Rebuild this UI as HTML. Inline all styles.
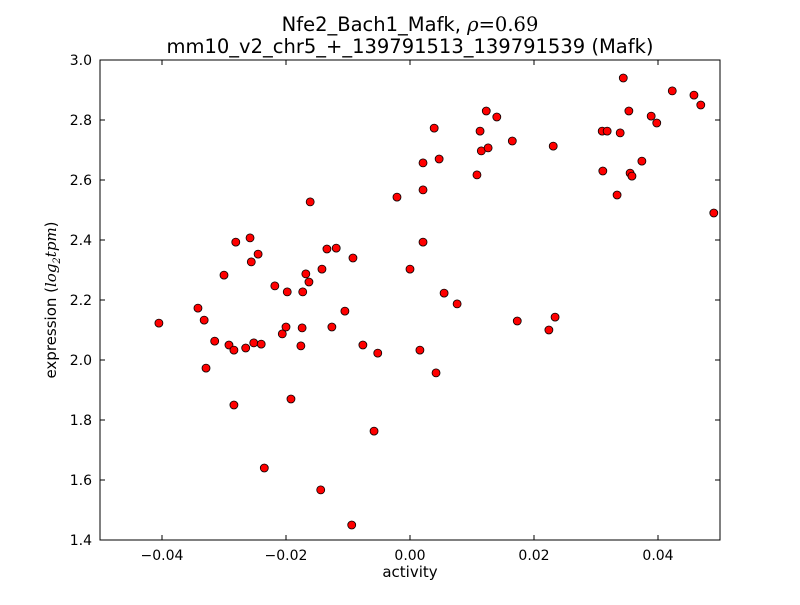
<!DOCTYPE html>
<html><head><meta charset="utf-8"><style>
body{margin:0;background:#fff;}
svg text{font-family:"DejaVu Sans","Liberation Sans",sans-serif;fill:#000;}
</style></head><body>
<svg id="chart" width="800" height="600" xmlns="http://www.w3.org/2000/svg">
<rect width="800" height="600" fill="#fff"/>
<text x="410" y="31" font-size="19.5" text-anchor="middle">Nfe2_Bach1_Mafk, <tspan font-family="DejaVu Serif,serif" font-style="italic">ρ</tspan><tspan font-family="DejaVu Serif,serif">=0.69</tspan></text>
<text x="410" y="53" font-size="19.5" text-anchor="middle">mm10_v2_chr5_+_139791513_139791539 (Mafk)</text>
<text x="410" y="577" font-size="15" text-anchor="middle">activity</text>
<text transform="translate(56,300) rotate(-90)" font-size="15" text-anchor="middle">expression (<tspan font-family="DejaVu Serif,serif" font-style="italic">log</tspan><tspan font-family="DejaVu Serif,serif" font-style="italic" font-size="10" dy="4">2</tspan><tspan font-family="DejaVu Serif,serif" font-style="italic" dy="-4">tpm</tspan>)</text>
<g id="ticks"></g>
<g id="points"></g>
<rect x="100" y="60" width="620" height="480" fill="none" stroke="#000" stroke-width="1"/>
</svg>
<script>
const xTicks=[-0.04,-0.02,0.00,0.02,0.04];
const xTickLabels=["\u22120.04","\u22120.02","0.00","0.02","0.04"];
const yTicks=[1.4,1.6,1.8,2.0,2.2,2.4,2.6,2.8,3.0];
const yTickLabels=["1.4","1.6","1.8","2.0","2.2","2.4","2.6","2.8","3.0"];
const activity=[-0.0405,-0.0342,-0.0332,-0.0329,-0.0315,-0.0300,-0.0292,-0.0284,-0.0284,-0.0281,-0.0265,-0.0258,-0.0256,-0.0252,-0.0245,-0.0240,-0.0235,-0.0218,-0.0206,-0.0200,-0.0198,-0.0192,-0.0176,-0.0174,-0.0173,-0.0168,-0.0163,-0.0161,-0.0144,-0.0142,-0.0134,-0.0126,-0.0119,-0.0105,-0.0094,-0.0092,-0.0076,-0.0058,-0.0052,-0.0021,0.0,0.0016,0.0021,0.0021,0.0021,0.0039,0.0042,0.0047,0.0055,0.0076,0.0108,0.0113,0.0115,0.0123,0.0126,0.0140,0.0165,0.0173,0.0224,0.0231,0.0234,0.0310,0.0311,0.0318,0.0334,0.0339,0.0344,0.0353,0.0355,0.0358,0.0374,0.0389,0.0398,0.0423,0.0458,0.0469,0.0490];
const expression=[2.123,2.173,2.133,1.973,2.063,2.283,2.05,2.033,1.85,2.393,2.04,2.407,2.327,2.057,2.353,2.053,1.64,2.247,2.087,2.11,2.227,1.87,2.047,2.107,2.227,2.287,2.26,2.527,1.567,2.303,2.37,2.11,2.373,2.163,1.45,2.34,2.05,1.763,2.023,2.543,2.303,2.033,2.393,2.567,2.657,2.773,1.957,2.67,2.223,2.187,2.617,2.763,2.697,2.83,2.707,2.81,2.73,2.13,2.1,2.713,2.143,2.763,2.63,2.763,2.55,2.757,2.94,2.83,2.623,2.613,2.663,2.813,2.79,2.897,2.883,2.85,2.49];
const NS="http://www.w3.org/2000/svg";
const X0=100,X1=720,Y0=540,Y1=60,xmin=-0.05,xmax=0.05,ymin=1.4,ymax=3.0;
function xs(v){return X0+(v-xmin)/(xmax-xmin)*(X1-X0);}
function ys(v){return Y0-(v-ymin)/(ymax-ymin)*(Y0-Y1);}
function mk(t,a){const e=document.createElementNS(NS,t);for(const k in a)e.setAttribute(k,a[k]);return e;}
const tg=document.getElementById('ticks');
xTicks.forEach((v,i)=>{const x=xs(v);
 const l1=mk('line',{x1:x,x2:x,y1:Y0,y2:Y0-5,stroke:'#000'});
 
 
 tg.appendChild(l1);
 const l2=mk('line',{x1:x,x2:x,y1:Y1,y2:Y1+5,stroke:'#000'});
 
 
 tg.appendChild(l2);
 const t=mk('text',{x:x,y:Y0+20,'font-size':14,'text-anchor':'middle'});t.textContent=xTickLabels[i];
 
 
 tg.appendChild(t);});
yTicks.forEach((v,i)=>{const y=ys(v);
 const l1=mk('line',{x1:X0,x2:X0+5,y1:y,y2:y,stroke:'#000'});
 
 
 tg.appendChild(l1);
 const l2=mk('line',{x1:X1,x2:X1-5,y1:y,y2:y,stroke:'#000'});
 
 
 tg.appendChild(l2);
 const t=mk('text',{x:X0-8,y:y+5,'font-size':14,'text-anchor':'end'});t.textContent=yTickLabels[i];
 
 
 tg.appendChild(t);});
const pg=document.getElementById('points');
activity.forEach((a,i)=>{
 const c=mk('circle',{cx:xs(a),cy:ys(expression[i]),r:4,fill:'#ff0000',stroke:'#000','stroke-width':0.8});
 
 
 pg.appendChild(c);});
</script>
</body></html>
